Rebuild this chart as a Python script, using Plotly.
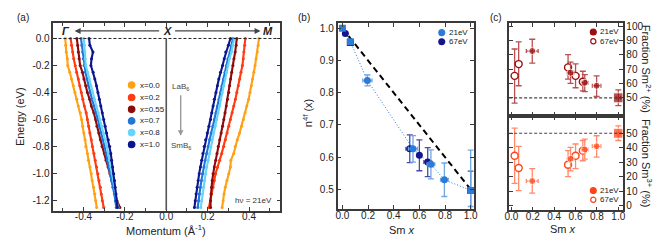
import plotly.graph_objects as go

# Reference canvas is 670x244; the page body adds an 8px margin, so the figure is drawn 8px smaller
REF_W, REF_H = 670, 244
OFF = 8
W, H = REF_W - OFF, REF_H - OFF

# ---------------- Panel (a): dispersions ----------------
energy = [0.00, -0.05, -0.10, -0.15, -0.20, -0.25, -0.30, -0.35, -0.40, -0.45, -0.50, -0.55, -0.60,
          -0.65, -0.70, -0.75, -0.80, -0.85, -0.90, -0.95, -1.00, -1.05, -1.10, -1.15, -1.20, -1.25]

series_labels = ["x=0.0", "x=0.2", "x=0.55", "x=0.7", "x=0.8", "x=1.0"]
series_colors = ["#FFA114", "#FF3B12", "#8E0B0B", "#1F76D8", "#66D4FF", "#0B168E"]

k_gamma_x00 = [-0.488, -0.486, -0.483, -0.478, -0.476, -0.466, -0.458, -0.449, -0.441, -0.432, -0.425, -0.415, -0.409,
               -0.404, -0.398, -0.392, -0.389, -0.381, -0.376, -0.368, -0.362, -0.358, -0.351, -0.345, -0.341, -0.336]
k_gamma_x02 = [-0.462, -0.458, -0.452, -0.447, -0.440, -0.433, -0.425, -0.418, -0.410, -0.403, -0.396, -0.387, -0.381,
               -0.375, -0.369, -0.362, -0.357, -0.349, -0.343, -0.336, -0.330, -0.325, -0.318, -0.314, -0.309, -0.302]
k_gamma_x055 = [-0.432, -0.428, -0.425, -0.421, -0.416, -0.405, -0.398, -0.389, -0.381, -0.370, -0.362, -0.350, -0.341,
                -0.335, -0.326, -0.318, -0.310, -0.299, -0.291, -0.281, -0.272, -0.263, -0.255, -0.246, -0.238, -0.224]
k_gamma_x07 = [-0.412, -0.408, -0.404, -0.401, -0.397, -0.390, -0.383, -0.376, -0.368, -0.359, -0.349, -0.339, -0.330,
               -0.323, -0.314, -0.306, -0.298, -0.291, -0.284, -0.276, -0.270, -0.264, -0.258, -0.251, -0.246, -0.242]
k_gamma_x08 = [-0.398, -0.396, -0.393, -0.392, -0.389, -0.380, -0.372, -0.364, -0.357, -0.348, -0.338, -0.329, -0.320,
               -0.311, -0.303, -0.294, -0.287, -0.280, -0.274, -0.268, -0.262, -0.256, -0.249, -0.243, -0.238, -0.233]
k_gamma_x10 = [-0.373, -0.369, -0.354, -0.361, -0.364, -0.353, -0.345, -0.337, -0.330, -0.323, -0.316, -0.309, -0.302,
               -0.295, -0.288, -0.280, -0.273, -0.268, -0.264, -0.259, -0.254, -0.250, -0.247, -0.243, -0.240, -0.236]

k_m_x00 = [0.448, 0.444, 0.440, 0.434, 0.429, 0.423, 0.417, 0.411, 0.405, 0.398, 0.389, 0.381, 0.373,
           0.364, 0.354, 0.343, 0.333, 0.326, 0.312, 0.310, 0.302, 0.293, 0.285, 0.279, 0.275, 0.270]
k_m_x02 = [0.382, 0.379, 0.375, 0.372, 0.368, 0.361, 0.355, 0.348, 0.341, 0.334, 0.326, 0.318, 0.310,
           0.302, 0.294, 0.286, 0.278, 0.268, 0.258, 0.248, 0.238, 0.232, 0.226, 0.219, 0.214, 0.206]
k_m_x055 = [0.341, 0.338, 0.333, 0.327, 0.322, 0.316, 0.311, 0.306, 0.302, 0.296, 0.290, 0.284, 0.278,
            0.272, 0.265, 0.258, 0.251, 0.245, 0.239, 0.232, 0.226, 0.222, 0.219, 0.216, 0.214, 0.214]
k_m_x07 = [0.322, 0.316, 0.308, 0.298, 0.291, 0.284, 0.276, 0.269, 0.262, 0.255, 0.248, 0.240, 0.233,
           0.225, 0.217, 0.209, 0.202, 0.195, 0.188, 0.182, 0.175, 0.170, 0.165, 0.160, 0.156, 0.152]
k_m_x08 = [0.328, 0.322, 0.315, 0.305, 0.298, 0.291, 0.284, 0.277, 0.270, 0.263, 0.257, 0.250, 0.243,
           0.236, 0.228, 0.221, 0.214, 0.208, 0.202, 0.196, 0.190, 0.185, 0.180, 0.175, 0.170, 0.167]
k_m_x10 = [0.310, 0.300, 0.287, 0.280, 0.272, 0.262, 0.254, 0.247, 0.240, 0.232, 0.226, 0.220, 0.214,
           0.206, 0.198, 0.190, 0.183, 0.177, 0.171, 0.165, 0.159, 0.154, 0.149, 0.144, 0.140, 0.136]

gamma_side = [k_gamma_x00, k_gamma_x02, k_gamma_x055, k_gamma_x07, k_gamma_x08, k_gamma_x10]
m_side = [k_m_x00, k_m_x02, k_m_x055, k_m_x07, k_m_x08, k_m_x10]

a_xrange = [-0.545, 0.551]
a_yrange = [-1.273, 0.116]

# ---------------- Panel (b): n4f ----------------
b21_x = [0.0, 0.062, 0.195, 0.55, 0.69, 0.795, 1.0]
b21_y = [1.0, 0.958, 0.838, 0.626, 0.578, 0.530, 0.497]
b21_yerr_up = [0.0, 0.0, 0.017, 0.041, 0.045, 0.052, 0.125]
b21_yerr_dn = [0.0, 0.0, 0.017, 0.041, 0.045, 0.052, 0.05]
b21_xerr = [0.0, 0.0, 0.036, 0.035, 0.03, 0.03, 0.0]
b21_symbol = ["square", "square", "circle", "circle", "circle", "circle", "square"]

b67_x = [0.023, 0.062, 0.525, 0.60, 0.665, 1.0]
b67_y = [0.984, 0.956, 0.626, 0.606, 0.585, 0.497]
b67_yerr = [0.0, 0.0, 0.043, 0.048, 0.045, 0.06]
b67_xerr = [0.0, 0.0, 0.03, 0.0, 0.03, 0.0]
b67_symbol = ["circle", "square", "circle", "circle", "circle", "square"]

ideal_x = [0.0, 1.0]
ideal_y = [1.0, 0.5]

b_xrange = [-0.038, 1.023]
b_yrange = [0.439, 1.017]

# ---------------- Panel (c): valence fractions ----------------
c21_x = [0.195, 0.553, 0.686, 0.797, 1.0]
c21_xerr = [0.055, 0.03, 0.03, 0.04, 0.02]
c67_x = [0.03, 0.068, 0.53, 0.60, 0.668]
c67_xerr = [0.02, 0.02, 0.03, 0.03, 0.03]

sm2_21 = [82.6, 67.5, 60.5, 58.4, 50.0]
sm2_21_up = [8.2, 7.4, 5.7, 6.9, 5.5]
sm2_21_dn = [8.4, 7.5, 6.2, 7.5, 5.5]
sm2_67 = [65.3, 73.5, 71.2, 65.3, 61.2]
sm2_67_up = [18.7, 15.5, 8.9, 8.4, 7.3]
sm2_67_dn = [19.0, 15.1, 8.2, 8.3, 6.4]

sm3_21 = [17.0, 32.4, 38.8, 41.0, 50.0]
sm3_21_up = [8.6, 7.9, 7.2, 7.3, 5.1]
sm3_21_dn = [8.4, 8.4, 6.6, 7.5, 5.0]
sm3_67 = [34.5, 26.0, 28.3, 34.5, 38.0]
sm3_67_up = [19.0, 15.0, 9.7, 8.1, 7.0]
sm3_67_dn = [19.1, 15.6, 8.3, 8.9, 7.0]

c21_symbol = ["circle", "circle", "circle", "circle", "square"]

c_xrange = [-0.021, 1.04]
c_top_yrange = [37.2, 101.8]
c_bot_yrange = [-3.2, 61.8]

# ---------------- Styling ----------------
FONT = "Liberation Sans, Arial, Helvetica, sans-serif"
AX = "#3a3a3a"
BLUE21 = "#2A7CD8"
BLUE21_ERR = "#6EA6E6"
NAVY67 = "#15158E"
NAVY67_ERR = "#4A4AA8"
DRED = "#9A0F0F"
DRED_ERR = "#B85050"
ORED = "#FF4419"
ORED_ERR = "#FF8A6A"


def px(x):
    return (x - OFF) / W


def py(y):
    return 1 - (y - OFF) / H


fig = go.Figure()

# panel (a) curves
for lbl, col, kg, km in zip(series_labels, series_colors, gamma_side, m_side):
    for kk in (kg, km):
        fig.add_trace(go.Scatter(x=kk, y=energy, mode="lines+markers", xaxis="x", yaxis="y",
                                 line=dict(color=col, width=2.1), marker=dict(color=col, size=3),
                                 showlegend=False, hoverinfo="skip"))

# panel (b)
fig.add_trace(go.Scatter(x=ideal_x, y=ideal_y, mode="lines", xaxis="x2", yaxis="y2",
                         line=dict(color="black", width=2, dash="6px,4px"), showlegend=False))
fig.add_trace(go.Scatter(x=b21_x, y=b21_y, mode="lines", xaxis="x2", yaxis="y2",
                         line=dict(color=BLUE21, width=1, dash="1px,2px"), showlegend=False))
fig.add_trace(go.Scatter(x=b67_x, y=b67_y, mode="markers", xaxis="x2", yaxis="y2",
                         marker=dict(color=NAVY67, size=7, symbol=b67_symbol),
                         error_y=dict(type="data", array=b67_yerr, color=NAVY67_ERR, thickness=1.3, width=3),
                         error_x=dict(type="data", array=b67_xerr, color=NAVY67_ERR, thickness=1.3, width=2),
                         showlegend=False))
fig.add_trace(go.Scatter(x=b21_x, y=b21_y, mode="markers", xaxis="x2", yaxis="y2",
                         marker=dict(color=BLUE21, size=7, symbol=b21_symbol),
                         error_y=dict(type="data", symmetric=False, array=b21_yerr_up, arrayminus=b21_yerr_dn,
                                      color=BLUE21_ERR, thickness=1.3, width=3),
                         error_x=dict(type="data", array=b21_xerr, color=BLUE21_ERR, thickness=1.3, width=2),
                         showlegend=False))

# panel (c) top: Sm2+
fig.add_trace(go.Scatter(x=c67_x, y=sm2_67, mode="markers", xaxis="x3", yaxis="y3",
                         marker=dict(color="white", size=7, symbol="circle", line=dict(color=DRED, width=1.4)),
                         error_y=dict(type="data", symmetric=False, array=sm2_67_up, arrayminus=sm2_67_dn,
                                      color=DRED_ERR, thickness=1.3, width=3),
                         error_x=dict(type="data", array=c67_xerr, color=DRED_ERR, thickness=1.3, width=2),
                         showlegend=False))
fig.add_trace(go.Scatter(x=c21_x, y=sm2_21, mode="markers", xaxis="x3", yaxis="y3",
                         marker=dict(color=DRED, size=[7, 7, 7, 7, 10], symbol=c21_symbol),
                         error_y=dict(type="data", symmetric=False, array=sm2_21_up, arrayminus=sm2_21_dn,
                                      color=DRED_ERR, thickness=1.3, width=3),
                         error_x=dict(type="data", array=c21_xerr, color=DRED_ERR, thickness=1.3, width=2),
                         showlegend=False))

# panel (c) bottom: Sm3+
fig.add_trace(go.Scatter(x=c67_x, y=sm3_67, mode="markers", xaxis="x4", yaxis="y4",
                         marker=dict(color="white", size=7, symbol="circle", line=dict(color=ORED, width=1.4)),
                         error_y=dict(type="data", symmetric=False, array=sm3_67_up, arrayminus=sm3_67_dn,
                                      color=ORED_ERR, thickness=1.3, width=3),
                         error_x=dict(type="data", array=c67_xerr, color=ORED_ERR, thickness=1.3, width=2),
                         showlegend=False))
fig.add_trace(go.Scatter(x=c21_x, y=sm3_21, mode="markers", xaxis="x4", yaxis="y4",
                         marker=dict(color=ORED, size=[7, 7, 7, 7, 10], symbol=c21_symbol),
                         error_y=dict(type="data", symmetric=False, array=sm3_21_up, arrayminus=sm3_21_dn,
                                      color=ORED_ERR, thickness=1.3, width=3),
                         error_x=dict(type="data", array=c21_xerr, color=ORED_ERR, thickness=1.3, width=2),
                         showlegend=False))

tickfont = dict(family=FONT, size=10, color="#222")


def axis_common(**kw):
    d = dict(showline=True, linecolor=AX, linewidth=1.5, mirror="ticks", ticks="inside",
             ticklen=4, tickwidth=1.2, tickcolor=AX, showgrid=False, zeroline=False,
             tickfont=tickfont, fixedrange=True)
    d.update(kw)
    return d


fig.update_layout(
    width=W, height=H, margin=dict(l=0, r=0, t=0, b=0), autosize=False,
    paper_bgcolor="white", plot_bgcolor="white", showlegend=False,
    font=dict(family=FONT, size=10, color="#222"),
    xaxis=axis_common(domain=[px(49), px(279)], range=a_xrange, anchor="y", ticklabelstandoff=-4,
                      tickvals=[-0.4, -0.2, 0.0, 0.2, 0.4], ticktext=["-0.4", "-0.2", "0.0", "0.2", "0.4"],
                      minor=dict(ticks="inside", dtick=0.1, tick0=0, ticklen=3, tickcolor=AX)),
    yaxis=axis_common(domain=[py(211), py(20)], range=a_yrange, anchor="x",
                      tickvals=[0, -0.2, -0.4, -0.6, -0.8, -1.0, -1.2],
                      ticktext=["0.0", "-0.2", "-0.4", "-0.6", "-0.8", "-1.0", "-1.2"]),
    xaxis2=axis_common(domain=[px(337), px(475)], range=b_xrange, anchor="y2", ticklabelstandoff=-4,
                       tickvals=[0, 0.2, 0.4, 0.6, 0.8, 1.0], ticktext=["0.0", "0.2", "0.4", "0.6", "0.8", "1.0"]),
    yaxis2=axis_common(domain=[py(209.5), py(20)], range=b_yrange, anchor="x2",
                       tickvals=[0.5, 0.6, 0.7, 0.8, 0.9, 1.0], ticktext=["0.5", "0.6", "0.7", "0.8", "0.9", "1.0"]),
    xaxis3=axis_common(domain=[px(511), px(626)], range=c_xrange, anchor="y3",
                       tickvals=[0, 0.2, 0.4, 0.6, 0.8, 1.0], showticklabels=False),
    yaxis3=axis_common(domain=[py(115), py(20.7)], range=c_top_yrange, anchor="x3", side="right",
                       tickvals=[50, 60, 70, 80, 90, 100]),
    xaxis4=axis_common(domain=[px(511), px(626)], range=c_xrange, anchor="y4", ticklabelstandoff=-4,
                       tickvals=[0, 0.2, 0.4, 0.6, 0.8, 1.0], ticktext=["0.0", "0.2", "0.4", "0.6", "0.8", "1.0"]),
    yaxis4=axis_common(domain=[py(210.7), py(115)], range=c_bot_yrange, anchor="x4", side="right",
                       tickvals=[0, 10, 20, 30, 40, 50]),
)

shapes = [
    # Fermi level dashed line panel (a)
    dict(type="line", xref="x domain", yref="y", x0=0, x1=1, y0=0, y1=0,
         line=dict(color="#222", width=1, dash="3px,2px")),
    # k = 0 vertical line
    dict(type="line", xref="x", yref="y", x0=0, x1=0, y0=0, y1=a_yrange[0],
         line=dict(color="#555", width=1.6)),
    # 50% lines panel (c)
    dict(type="line", xref="x3 domain", yref="y3", x0=0, x1=1, y0=50, y1=50,
         line=dict(color="#444", width=1.2, dash="3px,2px")),
    dict(type="line", xref="x4 domain", yref="y4", x0=0, x1=1, y0=50, y1=50,
         line=dict(color="#444", width=1.2, dash="3px,2px")),
]


def dot(cx, cy, r, fill, edge=None):
    return dict(type="circle", xref="paper", yref="paper",
                x0=px(cx - r), x1=px(cx + r), y0=py(cy + r), y1=py(cy - r),
                fillcolor=fill, line=dict(color=edge or fill, width=1.2))


# legend (a)
leg_a_y = [83.3, 96.0, 108.0, 119.8, 131.7, 143.8]
for yy, col in zip(leg_a_y, series_colors):
    shapes.append(dot(128.3, yy, 3.3, col))
# legend (b)
shapes.append(dot(442.7, 30.0, 3.0, BLUE21))
shapes.append(dot(442.7, 39.3, 3.0, NAVY67))
# legend (c)
shapes.append(dot(596.3, 29.3, 3.0, DRED))
shapes.append(dot(596.3, 38.8, 2.6, "white", DRED))
shapes.append(dot(596.3, 190.7, 3.0, ORED))
shapes.append(dot(596.3, 200.0, 2.6, "white", ORED))

fig.update_layout(shapes=shapes)


def ann(text, x, y, size=10, xanchor="center", yanchor="middle", angle=0, color="#222", **kw):
    d = dict(text=text, x=px(x), y=py(y), xref="paper", yref="paper", showarrow=False,
             xanchor=xanchor, yanchor=yanchor, textangle=angle,
             font=dict(family=FONT, size=size, color=color))
    d.update(kw)
    return d


annotations = [
    ann("(a)", 18, 15, 10),
    ann("(b)", 303, 15, 10),
    ann("(c)", 498, 15, 10),
    ann("Energy (eV)", 15, 115, 11, angle=-90),
    ann("Momentum (Å<sup>-1</sup>)", 163, 231, 11),
    ann("n<sup>4f</sup> (x)", 307, 112, 11, angle=-90),
    ann("Sm <i>x</i>", 402, 231, 11),
    ann("Sm <i>x</i>", 566, 230, 11),
    ann("Fraction Sm<sup>2+</sup> (%)", 650, 67, 11, angle=90),
    ann("Fraction Sm<sup>3+</sup> (%)", 650, 163, 11, angle=90),
    # high-symmetry header
    ann("<b><i>Γ</i></b>", 61.5, 28.3, 11),
    ann("<b><i>X</i></b>", 164.3, 28.3, 11),
    ann("<b><i>M</i></b>", 267, 28.3, 11),
    dict(text="", x=px(70.5), y=py(28.3), xref="paper", yref="paper", showarrow=True,
         ax=86, ay=0, arrowhead=2, arrowsize=1, arrowwidth=1.2, arrowcolor="#444"),
    dict(text="", x=px(259), y=py(28.3), xref="paper", yref="paper", showarrow=True,
         ax=-87, ay=0, arrowhead=2, arrowsize=1, arrowwidth=1.2, arrowcolor="#444"),
    # LaB6 -> SmB6
    ann("LaB<sub>6</sub>", 177.5, 85.5, 8, color="#444"),
    dict(text="", x=px(178), y=py(135), xref="paper", yref="paper", showarrow=True,
         ax=0, ay=-42, arrowhead=2, arrowsize=0.8, arrowwidth=1.4, arrowcolor="#999"),
    ann("SmB<sub>6</sub>", 178, 145, 8, color="#444"),
    ann("hν = 21eV", 252, 201, 8, color="#333"),
    # legend texts
    ann("21eV", 447.5, 30.0, 8, xanchor="left"),
    ann("67eV", 447.5, 39.3, 8, xanchor="left"),
    ann("21eV", 601, 29.3, 8, xanchor="left"),
    ann("67eV", 601, 38.8, 8, xanchor="left"),
    ann("21eV", 601, 190.7, 8, xanchor="left"),
    ann("67eV", 601, 200.0, 8, xanchor="left"),
]
for yy, lbl in zip(leg_a_y, series_labels):
    annotations.append(ann(lbl, 134.5, yy, 8, xanchor="left"))

fig.update_layout(annotations=annotations)

fig.write_html("out.html")
